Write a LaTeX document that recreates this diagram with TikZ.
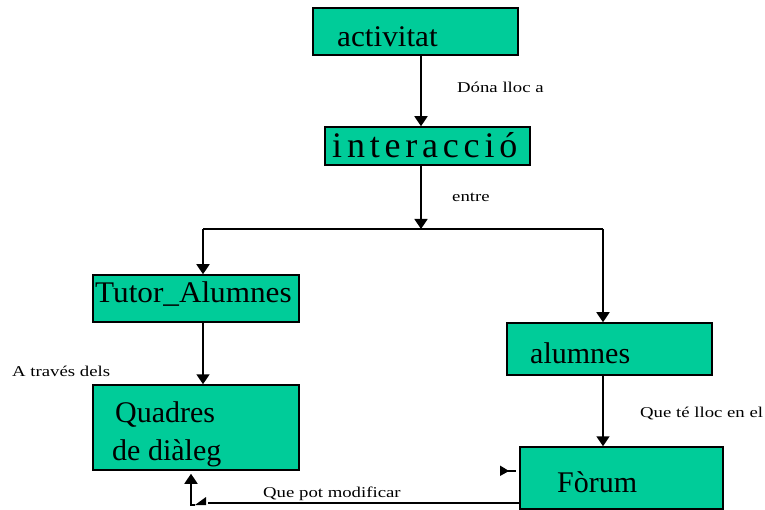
\documentclass[tikz,border=0pt]{standalone}
\usepackage{fontspec}
\usepackage{graphicx}
\setmainfont{Liberation Serif}
\usetikzlibrary{arrows.meta}
\definecolor{boxgreen}{RGB}{0,204,153}
\newcommand{\sml}[1]{\scalebox{1.25}[1]{\fontsize{15}{15}\selectfont #1}}
\newcommand{\ks}{\kern4.8pt}
\begin{document}
\begin{tikzpicture}[x=1pt,y=-1pt,
 box/.style={draw=black, line width=1.5pt, fill=boxgreen, rectangle, inner sep=0pt},
 big/.style={anchor=base west, inner sep=0pt, font=\fontsize{30}{30}\selectfont},
 lbl/.style={anchor=base west, inner sep=0pt},
 conn/.style={line width=1.6pt},
 arr/.style={conn, -{Triangle[width=13pt,length=10pt]}}]
\useasboundingbox (0,0) rectangle (765,510);
\fill[white] (0,0) rectangle (765,510);

% boxes
\node[box, minimum width=205pt, minimum height=47pt] (act) at (415.5,31.5) {};
\node[box, minimum width=205pt, minimum height=38pt] (inter) at (427.5,146) {};
\node[box, minimum width=206pt, minimum height=47pt] (tutor) at (196,298.5) {};
\node[box, minimum width=206pt, minimum height=85pt] (quad) at (196,427.5) {};
\node[box, minimum width=205pt, minimum height=52pt] (alum) at (609.5,349) {};
\node[box, minimum width=203pt, minimum height=62pt] (forum) at (621.5,478) {};

% helper coordinates
\coordinate (xa) at (421,0);
\coordinate (split) at (421,229);
\coordinate (hl) at (203,229);
\coordinate (hr) at (603,229);
\coordinate (yb) at (0,503);
\coordinate (gapend) at (208,503);
\coordinate (corner) at (191,505);
\coordinate (cornerR) at (195,505);

% connectors
\draw[arr] (act.south -| xa) -- (inter.north -| xa);
\draw[arr] (inter.south -| xa) -- (split);
\draw[conn] (hl) -- (hr);
\draw[arr] (hl) -- (tutor.north -| hl);
\draw[arr] (hr) -- (alum.north -| hr);
\draw[arr] (tutor.south -| hl) -- (quad.north -| hl);
\draw[arr] (alum.south -| hr) -- (forum.north -| hr);
\draw[conn] (forum.west |- yb) -- (gapend);
\draw[arr, shorten >=3pt] (cornerR) -- (corner) -- (quad.south -| corner);
\fill (195,505) -- (206,505) -- (206,497) -- cycle;
\fill (500,465.5) -- (500,476) -- (509,471) -- cycle;
\draw[conn] (500,471) -- (516,471);

% box texts
\node[big] (tact) at (337,47) {\scalebox{1.04}[1]{activitat}};
\node[lbl, font=\fontsize{36}{36}\selectfont] (tint) at (332,158) {i\ks n\ks t\ks e\ks r\ks a\ks c\ks c\ks i\ks ó};
\node[big] (ttut) at (95,302) {\scalebox{1.04}[1]{Tutor\_Alumnes}};
\node[big] (tq1) at (115,422) {Quadres};
\node[big] (tq2) at (112,460) {de diàleg};
\node[big] (talum) at (530,363) {alumnes};
\node[big] (tfor) at (557,492) {Fòrum};

% connector labels
\node[lbl] (l1) at (457,93) {\sml{Dóna lloc a}};
\node[lbl] (l2) at (452,202) {\sml{entre}};
\node[lbl] (l3) at (12,376) {\sml{A través dels}};
\node[lbl] (l4) at (640,417) {\sml{Que té lloc en el}};
\node[lbl] (l5) at (263,497) {\sml{Que pot modificar}};
\end{tikzpicture}
\end{document}
